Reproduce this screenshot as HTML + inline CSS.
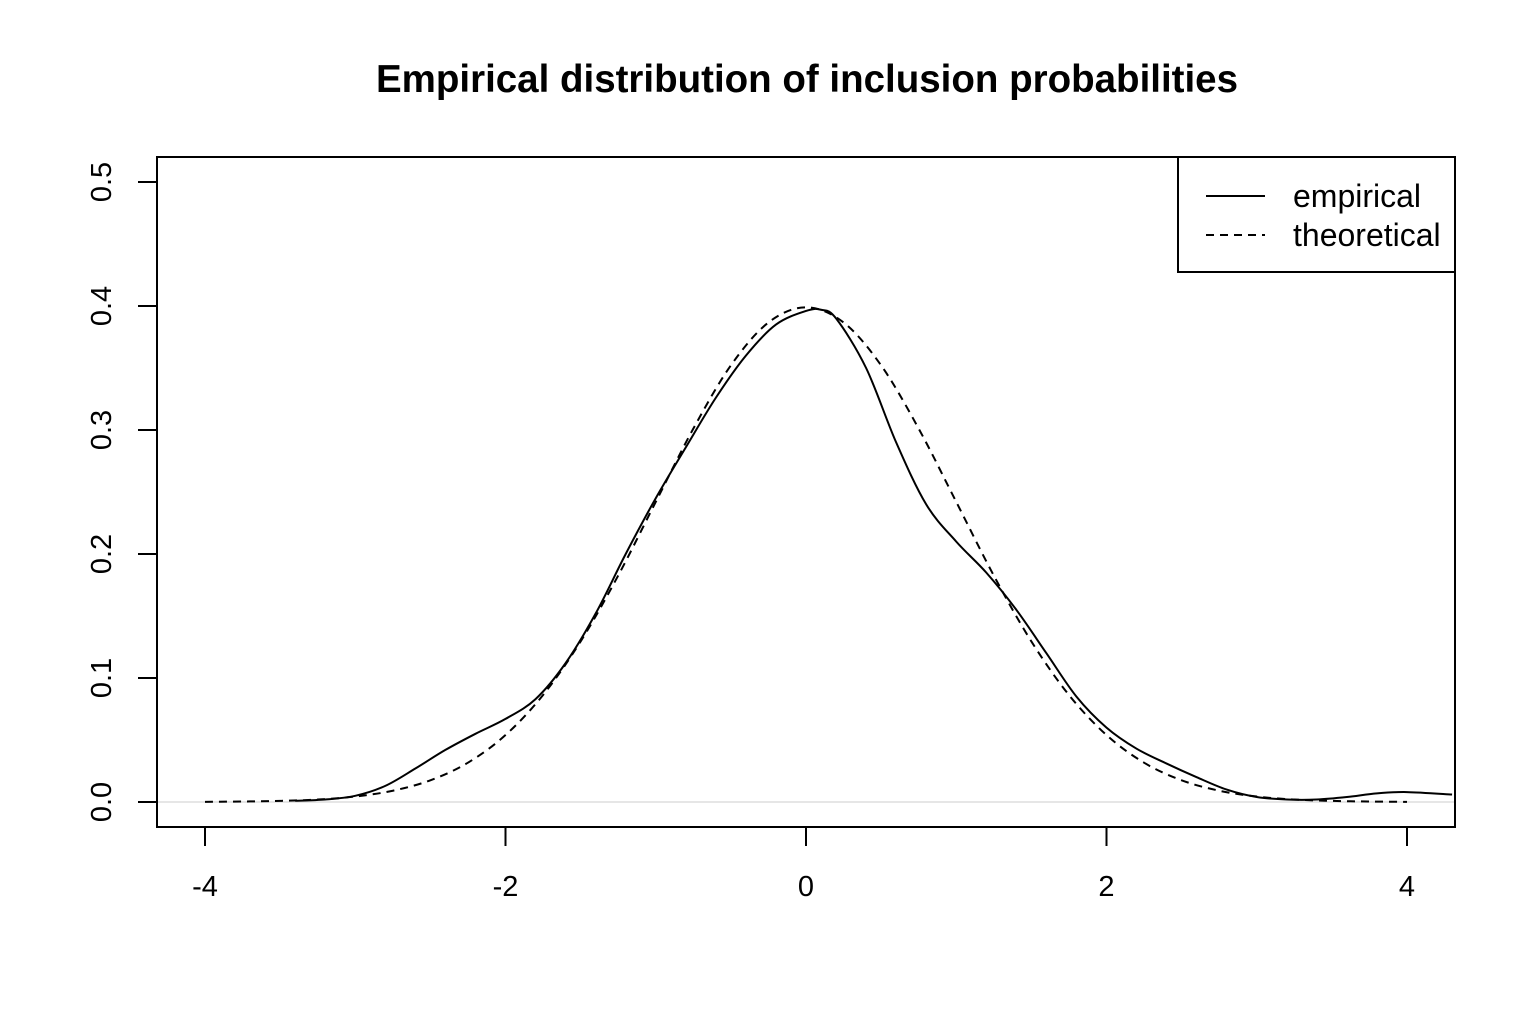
<!DOCTYPE html>
<html><head><meta charset="utf-8"><style>
body{margin:0;background:#fff}
svg text{font-family:"Liberation Sans",Arial,sans-serif;fill:#000}
</style></head><body>
<svg id="c" width="1536" height="1023" xmlns="http://www.w3.org/2000/svg">
<text x="807" y="92" text-anchor="middle" font-size="38.5" font-weight="bold">Empirical distribution of inclusion probabilities</text>
<line x1="157" y1="802" x2="1455" y2="802" stroke="#ddd" stroke-width="1.5"/>
<g id="xaxis"></g>
<g id="yaxis"></g>
<g id="series"></g>
<rect x="157" y="157" width="1298" height="670" fill="none" stroke="#000" stroke-width="2"/>
<g>
<rect x="1178" y="157" width="277" height="115" fill="#fff" stroke="#000" stroke-width="2"/>
<line x1="1206" y1="196" x2="1265" y2="196" stroke="#000" stroke-width="2"/>
<text x="1293" y="207" font-size="32">empirical</text>
<line x1="1206" y1="235" x2="1265" y2="235" stroke="#000" stroke-width="2" stroke-dasharray="8,6"/>
<text x="1293" y="246" font-size="32">theoretical</text>
</g>
</svg>
<script>
const xTicks=[-4,-2,0,2,4];
const yTicks=[0,0.1,0.2,0.3,0.4,0.5];
const yTickLabels=["0.0","0.1","0.2","0.3","0.4","0.5"];
const empX=[-3.4,-3.2,-3.0,-2.8,-2.6,-2.4,-2.2,-2.0,-1.8,-1.6,-1.4,-1.2,-1.0,-0.8,-0.6,-0.4,-0.2,0.0,0.1,0.2,0.4,0.6,0.8,1.0,1.2,1.4,1.6,1.8,2.0,2.2,2.4,2.6,2.8,3.0,3.2,3.4,3.6,3.8,4.0,4.3];
const empY=[0.001,0.002,0.005,0.013,0.027,0.042,0.055,0.067,0.083,0.112,0.152,0.2,0.245,0.286,0.326,0.36,0.385,0.396,0.397,0.39,0.35,0.29,0.24,0.21,0.185,0.155,0.12,0.085,0.06,0.043,0.031,0.02,0.01,0.004,0.002,0.002,0.004,0.007,0.008,0.006];
const thX=[-4,-3.75,-3.5,-3.25,-3,-2.75,-2.5,-2.25,-2,-1.75,-1.5,-1.25,-1,-0.75,-0.5,-0.25,0,0.25,0.5,0.75,1,1.25,1.5,1.75,2,2.25,2.5,2.75,3,3.25,3.5,3.75,4];
const thY=[0.0001,0.0004,0.0009,0.002,0.0044,0.0091,0.0175,0.0317,0.054,0.0863,0.1295,0.1826,0.242,0.3011,0.3521,0.3867,0.3989,0.3867,0.3521,0.3011,0.242,0.1826,0.1295,0.0863,0.054,0.0317,0.0175,0.0091,0.0044,0.002,0.0009,0.0004,0.0001];
const NS="http://www.w3.org/2000/svg";
const sx=v=>806+v*150.25, sy=v=>802-v*1240;
function mk(t,a,p){const e=document.createElementNS(NS,t);for(const k in a)e.setAttribute(k,a[k]);p.appendChild(e);return e;}
const xa=document.getElementById('xaxis'),ya=document.getElementById('yaxis'),se=document.getElementById('series');
const xl=mk('line',{x1:sx(-4),x2:sx(4),y1:827,y2:827,stroke:'#000','stroke-width':2},xa);


xTicks.forEach(v=>{
 const t=mk('line',{x1:sx(v),x2:sx(v),y1:827,y2:846,stroke:'#000','stroke-width':2},xa);
 
 
 const l=mk('text',{x:sx(v),y:896,'text-anchor':'middle','font-size':29},xa);l.textContent=String(v);
 
 
});
const yl=mk('line',{x1:157,x2:157,y1:sy(0),y2:sy(0.5),stroke:'#000','stroke-width':2},ya);


yTicks.forEach((v,i)=>{
 const t=mk('line',{x1:138,x2:157,y1:sy(v),y2:sy(v),stroke:'#000','stroke-width':2},ya);
 
 
 const l=mk('text',{x:0,y:0,'text-anchor':'middle','font-size':29,transform:`translate(111,${sy(v)}) rotate(-90)`},ya);l.textContent=yTickLabels[i];
 
 
});
function smooth(xs,ys){
 const p=xs.map((x,i)=>[sx(x),sy(ys[i])]);let d=`M${p[0][0]},${p[0][1]}`;
 for(let i=0;i<p.length-1;i++){const a=p[i-1]||p[i],b=p[i],c=p[i+1],e=p[i+2]||c;
  d+=` C${b[0]+(c[0]-a[0])/6},${b[1]+(c[1]-a[1])/6} ${c[0]-(e[0]-b[0])/6},${c[1]-(e[1]-b[1])/6} ${c[0]},${c[1]}`;}
 return d;}
const cp=mk('clipPath',{id:'clip'},document.getElementById('c'));mk('rect',{x:157,y:157,width:1298,height:670},cp);
const th=mk('path',{d:smooth(thX,thY),fill:'none',stroke:'#000','stroke-width':2,'stroke-dasharray':'8,6','clip-path':'url(#clip)'},se);


const em=mk('path',{d:smooth(empX,empY),fill:'none',stroke:'#000','stroke-width':2,'clip-path':'url(#clip)'},se);


</script>
</body></html>
